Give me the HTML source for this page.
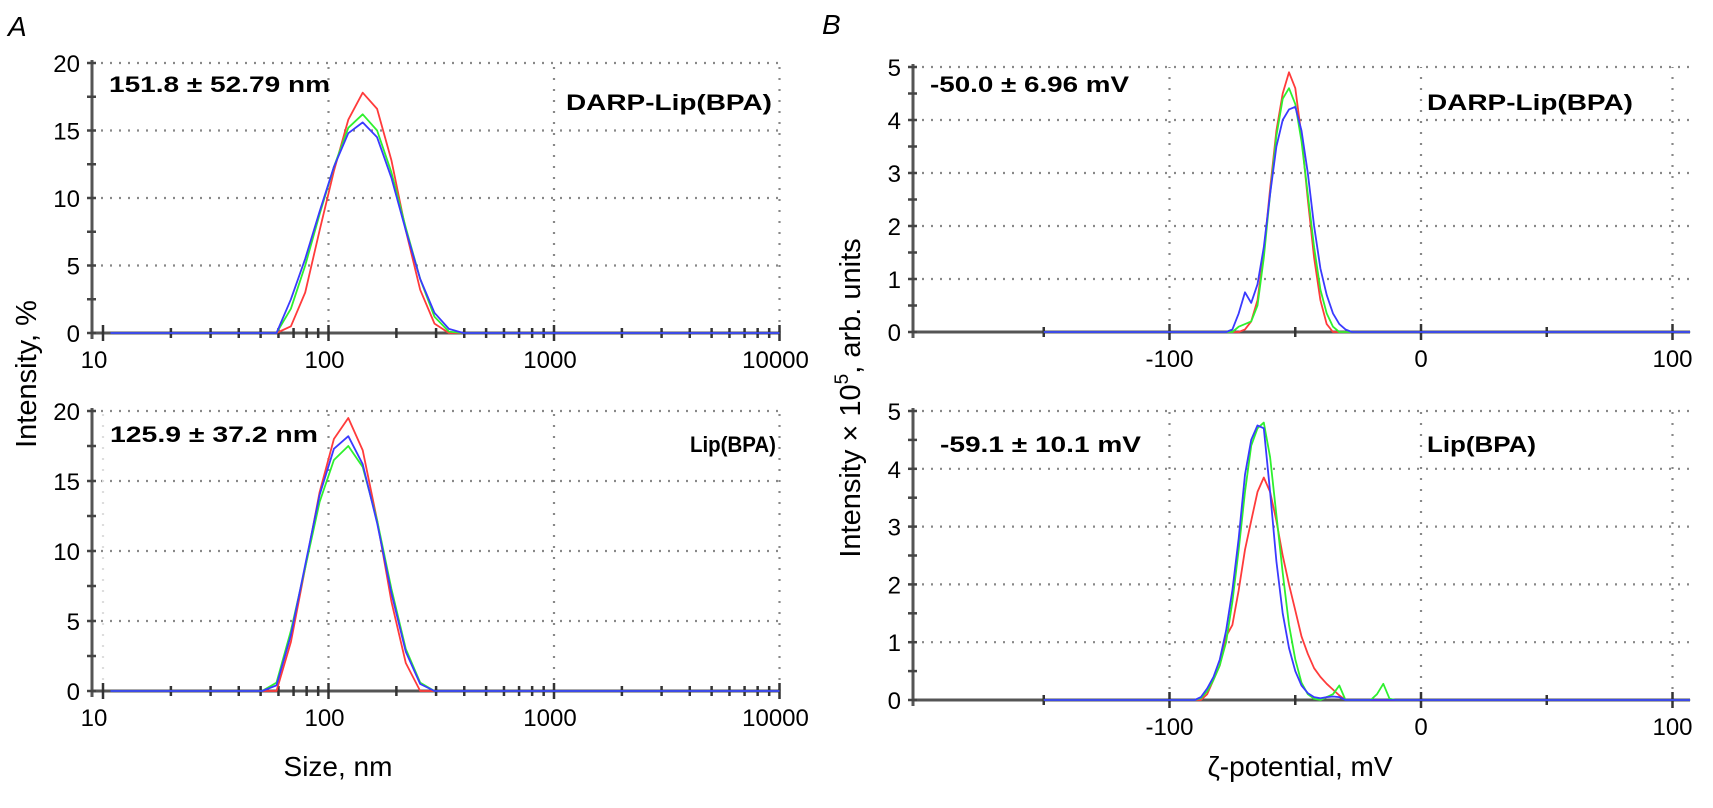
<!DOCTYPE html>
<html><head><meta charset="utf-8"><style>
html,body{margin:0;padding:0;background:#fff;}
svg{display:block;font-family:"Liberation Sans","DejaVu Sans",sans-serif;}
</style></head><body>
<svg id="fig" width="1713" height="808" viewBox="0 0 1713 808" xmlns="http://www.w3.org/2000/svg">
<text x="8" y="36" font-size="28" font-style="italic">A</text>
<text x="822" y="34" font-size="28" font-style="italic">B</text>
<text transform="translate(36,374) rotate(-90)" text-anchor="middle" font-size="29">Intensity, %</text>
<text transform="translate(860,398) rotate(-90)" text-anchor="middle" font-size="29">Intensity × 10<tspan font-size="19" dy="-12">5</tspan><tspan dy="12">, arb. units</tspan></text>
<text x="338" y="776" text-anchor="middle" font-size="28">Size, nm</text>
<text x="1300" y="776" text-anchor="middle" font-size="28">ζ-potential, mV</text>
<g id="plots"></g>
</svg>
<script>
// ---- data ----
const sizeBins = [50.7, 58.8, 68.1, 78.8, 91.3, 105.7, 122.4, 141.8, 164.2, 190.1, 220.2, 255.0, 295.3, 342.0, 396.1, 458.7];
const aTopRed   = [0, 0, 0.5, 3.0, 7.6, 12.0, 15.8, 17.8, 16.6, 12.8, 7.6, 3.2, 0.7, 0, 0, 0];
const aTopGreen = [0, 0, 1.8, 5.0, 8.8, 12.3, 15.2, 16.2, 15.0, 11.9, 7.8, 4.0, 1.2, 0.1, 0, 0];
const aTopBlue  = [0, 0, 2.5, 5.5, 9.0, 12.3, 14.8, 15.6, 14.5, 11.5, 7.6, 4.0, 1.5, 0.3, 0, 0];
const aBotRed   = [0, 0, 3.5, 8.8, 14.2, 18.0, 19.5, 17.2, 12.2, 6.4, 2.0, 0, 0, 0, 0, 0];
const aBotGreen = [0, 0.6, 4.3, 8.8, 13.5, 16.5, 17.5, 16.0, 12.2, 7.3, 3.0, 0.6, 0, 0, 0, 0];
const aBotBlue  = [0, 0.4, 4.0, 9.0, 14.0, 17.3, 18.2, 16.2, 12.0, 7.0, 2.8, 0.5, 0, 0, 0, 0];
const zetaTop = [-80,-77.5,-75,-72.5,-70,-67.5,-65,-62.5,-60,-57.5,-55,-52.5,-50,-47.5,-45,-42.5,-40,-37.5,-35,-32.5,-30,-27.5,-25];
const bTopRed   = [0,0,0,0,0.05,0.2,0.6,1.5,2.7,3.8,4.5,4.9,4.6,3.7,2.5,1.4,0.6,0.15,0,0,0,0,0];
const bTopGreen = [0,0,0,0.1,0.15,0.2,0.5,1.4,2.6,3.7,4.4,4.6,4.3,3.6,2.6,1.6,0.8,0.35,0.1,0,0,0,0];
const bTopBlue  = [0,0,0.05,0.35,0.75,0.55,0.9,1.6,2.6,3.5,4.0,4.2,4.25,3.8,3.0,2.0,1.2,0.7,0.35,0.15,0.05,0,0];
const zetaBot = [-92.5,-90,-87.5,-85,-82.5,-80,-77.5,-75,-72.5,-70,-67.5,-65,-62.5,-60,-57.5,-55,-52.5,-50,-47.5,-45,-42.5,-40,-37.5,-35,-32.5,-30,-27.5,-25,-22.5,-20,-17.5,-15,-12.5,-10];
const bBotRed   = [0,0,0,0.1,0.35,0.6,1.1,1.3,1.9,2.6,3.1,3.6,3.85,3.6,3.1,2.5,2.0,1.55,1.1,0.8,0.55,0.4,0.28,0.18,0.08,0,0,0,0,0,0,0,0,0];
const bBotGreen = [0,0,0.03,0.15,0.35,0.6,1.0,1.7,2.6,3.6,4.4,4.7,4.8,4.2,3.2,2.2,1.3,0.7,0.3,0.1,0.02,0,0.05,0.1,0.25,0,0,0,0,0,0.1,0.28,0.02,0];
const bBotBlue  = [0,0,0.05,0.2,0.4,0.7,1.2,1.9,2.8,3.9,4.5,4.75,4.7,3.6,2.4,1.5,0.9,0.5,0.25,0.12,0.05,0.03,0.05,0.06,0.05,0,0,0,0,0,0,0,0,0];
const aXTicks = [10, 100, 1000, 10000];
const aXTickLabels = ["10", "100", "1000", "10000"];
const aYTicks = [0, 5, 10, 15, 20];
const bXTicks = [-100, 0, 100];
const bXTickLabels = ["-100", "0", "100"];
const bYTicks = [0, 1, 2, 3, 4, 5];

const NS = "http://www.w3.org/2000/svg";
const root = document.getElementById('plots');
function mk(tag, attrs, parent) {
  const e = document.createElementNS(NS, tag);
  for (const k in attrs) e.setAttribute(k, attrs[k]);
  (parent || root).appendChild(e);
  return e;
}
const COLORS = {red: "#ff3b3b", green: "#2ef02e", blue: "#3a3aff"};

function panel(cfg) {
  const g = mk('g', {});
  
  
  const X = cfg.X, Y = cfg.Y;
  cfg.yTicks.forEach(t => {
    if (t === 0) return;
    const l = mk('line', {x1: cfg.axL, x2: cfg.axR, y1: Y(t), y2: Y(t), stroke: "#888", "stroke-width": 2.2, "stroke-dasharray": "2,7"}, g);
    
    
  });
  cfg.xGrid.forEach(t => {
    const l = mk('line', {x1: X(t), x2: X(t), y1: Y(0), y2: Y(cfg.yMax), stroke: t === cfg.faint ? "#ddd" : "#888", "stroke-width": 2.2, "stroke-dasharray": "2,9"}, g);
    
    
  });
  const ax = mk('line', {x1: cfg.axL, x2: cfg.axR, y1: Y(0), y2: Y(0), stroke: "#555", "stroke-width": 3}, g);
  
  
  const ay = mk('line', {x1: cfg.axL, x2: cfg.axL, y1: Y(0) + 6, y2: Y(cfg.yMax) - 3, stroke: "#555", "stroke-width": 3}, g);
  
  
  for (let v = 0; v <= cfg.yMax + 1e-9; v += cfg.yMinor) {
    const t = mk('line', {x1: cfg.axL - 5, x2: cfg.axL + 4, y1: Y(v), y2: Y(v), stroke: "#444", "stroke-width": 2.5}, g);
    
    
  }
  cfg.yTicks.forEach(v => {
    const t = mk('text', {x: cfg.axL - 12, y: Y(v) + 9, "text-anchor": "end", "font-size": 24}, g);
    t.textContent = String(v);
    
    
  });
  cfg.xMinorTicks.forEach(v => {
    const t = mk('line', {x1: X(v), x2: X(v), y1: Y(0) - 5, y2: Y(0) + 5, stroke: "#333", "stroke-width": 2.5}, g);
    
    
  });
  cfg.xTicks.forEach((v, i) => {
    const t = mk('line', {x1: X(v), x2: X(v), y1: Y(0) - 8, y2: Y(0) + 8, stroke: "#333", "stroke-width": 2.5}, g);
    
    
    const lb = mk('text', {x: X(v) + (cfg.labelShift[i] || 0), y: Y(0) + 35, "text-anchor": "middle", "font-size": 24}, g);
    lb.textContent = cfg.xTickLabels[i];
    
    
  });
  cfg.series.forEach(s => {
    const xs = [cfg.lineStart].concat(cfg.xs, [cfg.lineEnd]);
    const ys = [0].concat(s.vals, [0]);
    const d = xs.map((v, i) => (i ? "L" : "M") + X(v).toFixed(1) + "," + Y(ys[i]).toFixed(1)).join(" ");
    const p = mk('path', {d: d, fill: "none", stroke: COLORS[s.color], "stroke-width": 1.8, "stroke-linejoin": "round"}, g);
    
    
  });
  cfg.notes.forEach(n => {
    const t = mk('text', {x: n.x, y: n.y, "font-size": 22, "font-weight": "bold", textLength: n.w, lengthAdjust: "spacingAndGlyphs"}, g);
    t.textContent = n.text;
    
    
  });
}

function logX(v) { return 103 + 225.5 * (Math.log10(v) - 1); }
function zX(v) { return 1421 + 2.515 * v; }
const logMinor = [];
[10, 100, 1000].forEach(d => { for (let k = 2; k <= 9; k++) logMinor.push(d * k); });

panel({name: "panel-a-top", X: logX, Y: v => 333 - 13.5 * v, axL: 92, axR: 780, yMax: 20, yMinor: 2.5,
  yTicks: aYTicks, xTicks: aXTicks, xTickLabels: aXTickLabels, labelShift: [-9, -4, -4, -4], xMinorTicks: logMinor,
  xGrid: [100, 1000, 10000], xs: sizeBins, lineStart: 10.8, lineEnd: 10000,
  series: [{name: "series-red-a-top", color: "red", vals: aTopRed}, {name: "series-green-a-top", color: "green", vals: aTopGreen}, {name: "series-blue-a-top", color: "blue", vals: aTopBlue}],
  notes: [{name: "size-annotation-a-top", text: "151.8 ± 52.79 nm", x: 109, y: 92, w: 221}, {name: "sample-label-a-top", text: "DARP-Lip(BPA)", x: 566, y: 110, w: 206}]});

panel({name: "panel-a-bottom", X: logX, Y: v => 691 - 14 * v, axL: 92, axR: 780, yMax: 20, yMinor: 2.5,
  yTicks: aYTicks, xTicks: aXTicks, xTickLabels: aXTickLabels, labelShift: [-9, -4, -4, -4], xMinorTicks: logMinor,
  xGrid: [10, 100, 1000, 10000], faint: 10, xs: sizeBins, lineStart: 10.8, lineEnd: 10000,
  series: [{name: "series-red-a-bottom", color: "red", vals: aBotRed}, {name: "series-green-a-bottom", color: "green", vals: aBotGreen}, {name: "series-blue-a-bottom", color: "blue", vals: aBotBlue}],
  notes: [{name: "size-annotation-a-bottom", text: "125.9 ± 37.2 nm", x: 110, y: 442, w: 208}, {name: "sample-label-a-bottom", text: "Lip(BPA)", x: 690, y: 452, w: 86}]});

panel({name: "panel-b-top", X: zX, Y: v => 332 - 53 * v, axL: 913, axR: 1690, yMax: 5, yMinor: 0.5,
  yTicks: bYTicks, xTicks: bXTicks, xTickLabels: bXTickLabels, labelShift: [0, 0, 0], xMinorTicks: [-150, -50, 50],
  xGrid: [-100, 0, 100], xs: zetaTop, lineStart: -150, lineEnd: 107,
  series: [{name: "series-red-b-top", color: "red", vals: bTopRed}, {name: "series-green-b-top", color: "green", vals: bTopGreen}, {name: "series-blue-b-top", color: "blue", vals: bTopBlue}],
  notes: [{name: "zeta-annotation-b-top", text: "-50.0 ± 6.96 mV", x: 930, y: 92, w: 199}, {name: "sample-label-b-top", text: "DARP-Lip(BPA)", x: 1427, y: 110, w: 206}]});

panel({name: "panel-b-bottom", X: zX, Y: v => 700 - 57.8 * v, axL: 913, axR: 1690, yMax: 5, yMinor: 0.5,
  yTicks: bYTicks, xTicks: bXTicks, xTickLabels: bXTickLabels, labelShift: [0, 0, 0], xMinorTicks: [-150, -50, 50],
  xGrid: [-100, 0, 100], xs: zetaBot, lineStart: -150, lineEnd: 107,
  series: [{name: "series-red-b-bottom", color: "red", vals: bBotRed}, {name: "series-green-b-bottom", color: "green", vals: bBotGreen}, {name: "series-blue-b-bottom", color: "blue", vals: bBotBlue}],
  notes: [{name: "zeta-annotation-b-bottom", text: "-59.1 ± 10.1 mV", x: 940, y: 452, w: 201}, {name: "sample-label-b-bottom", text: "Lip(BPA)", x: 1427, y: 452, w: 109}]});
</script>
</body></html>
